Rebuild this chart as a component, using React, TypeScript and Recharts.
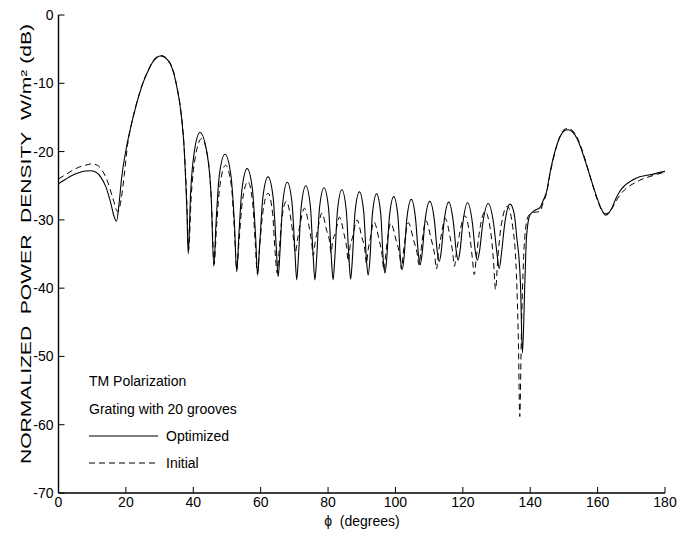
import React from 'react';
import { LineChart, Line, XAxis, YAxis } from 'recharts';

const xTicks = [0, 20, 40, 60, 80, 100, 120, 140, 160, 180];
const yTicks = [0, -10, -20, -30, -40, -50, -60, -70];

const titleLines = ['TM Polarization', 'Grating with 20 grooves'];
const seriesNames = ['Optimized', 'Initial'];
const xLabel = 'ϕ\u00a0\u00a0(degrees)';
const yLabel = 'NORMALIZED\u00a0\u00a0POWER\u00a0\u00a0DENSITY\u00a0\u00a0W/m² (dB)';

// [phi (deg), normalized power density (dB)]
const optimizedCurve: [number, number][] = [
  [0, -24.7], [2, -24.1], [4, -23.5], [6, -23.1], [8, -22.85], [9.5, -22.8], [11, -23.0], [12.5, -23.7],
  [14, -25.1], [15.5, -27.5], [16.5, -29.5], [17.2, -30.2], [18, -27.5], [18.7, -24.0], [20.2, -19.3],
  [21.5, -16.3], [22.7, -13.9], [24, -11.6], [25.2, -9.8], [26.5, -8.3], [27.7, -7.1], [29, -6.3],
  [30.1, -6.0], [31.5, -6.2], [33.1, -7.1], [34.2, -8.5], [35.1, -10.5], [36, -13], [36.6, -15.4],
  [37.2, -18.8], [37.7, -23.7], [38.1, -28.5], [38.5, -35.0],
  [39.2, -26.2], [40.25, -20.2], [42.0, -17.2], [44.05, -20.2], [45.3, -26.5], [46.1, -36.8],
  [46.76, -30.4], [47.75, -23.4], [49.4, -20.4], [51.15, -23.4], [52.2, -30.4], [52.9, -37.6],
  [53.5, -32.5], [54.45, -25.5], [56.0, -22.5], [57.55, -25.5], [58.5, -32.5], [59.1, -38.1],
  [59.7, -33.7], [60.65, -26.7], [62.2, -23.7], [63.7, -26.7], [64.6, -33.7], [65.2, -38.3],
  [65.75, -34.5], [66.55, -27.5], [67.9, -24.5], [69.3, -27.5], [70.15, -34.5], [70.7, -38.8],
  [71.25, -35.0], [72.05, -28.0], [73.4, -25.0], [74.75, -28.0], [75.55, -35.0], [76.1, -38.8],
  [76.65, -35.3], [77.45, -28.3], [78.8, -25.3], [80.15, -28.3], [80.95, -35.3], [81.5, -38.8],
  [82.0, -35.6], [82.8, -28.6], [84.1, -25.6], [85.4, -28.6], [86.2, -35.6], [86.7, -38.7],
  [87.2, -35.9], [88.0, -28.9], [89.3, -25.9], [90.6, -28.9], [91.4, -35.9], [91.9, -38.1],
  [92.4, -36.0], [93.15, -29.2], [94.4, -26.2], [95.65, -29.2], [96.4, -36.0], [96.9, -37.8],
  [97.4, -35.8], [98.2, -29.6], [99.5, -26.6], [100.75, -29.6], [101.5, -35.8], [102.0, -37.3],
  [102.55, -35.5], [103.35, -30.0], [104.7, -27.0], [106.0, -30.0], [106.8, -35.0], [107.3, -36.6],
  [107.9, -35.0], [108.75, -30.3], [110.2, -27.3], [111.6, -30.3], [112.45, -34.8], [113.0, -36.1],
  [113.55, -34.8], [114.4, -30.4], [115.8, -27.4], [117.2, -30.4], [118.05, -34.6], [118.6, -35.9],
  [119.15, -34.6], [120.0, -30.5], [121.4, -27.5], [122.85, -30.5], [123.7, -34.6], [124.3, -35.9],
  [124.95, -34.6], [125.9, -30.6], [127.5, -27.6], [129.15, -30.6], [130.15, -35.0], [130.8, -37.1],
  [131.45, -35.0], [132.4, -30.7], [134.0, -27.7], [135.2, -29.0], [136.0, -32.5], [137.1, -39.3],
  [137.7, -49.5], [138.4, -39.3], [138.9, -32.5], [139.9, -29.3], [141.4, -28.6], [142.9, -28.2],
  [143.9, -27.1], [144.9, -25.8], [145.8, -23.3], [146.8, -21.0], [148.8, -17.9], [150, -17.0],
  [151.3, -16.8], [152.5, -17.1], [153.8, -18.0], [155, -19.4], [156.2, -21.2], [157.5, -23.2],
  [158.7, -25.1], [160, -27.0], [161.2, -28.5], [162.4, -29.3], [163.3, -29.0], [164.2, -28.3],
  [165.4, -26.9], [166.6, -25.8], [168, -25.0], [169.6, -24.4], [172.5, -23.7], [176.5, -23.3], [180, -22.9],
];

const initialCurve: [number, number][] = [
  [0, -24.0], [2, -23.4], [4, -22.8], [6, -22.3], [8, -22.0], [10, -21.8], [11.5, -22.0], [13, -22.8],
  [14.5, -24.3], [16, -26.6], [17.6, -28.8], [18.6, -27.0], [19.5, -23.5], [20.5, -19.0], [21.5, -16.3],
  [22.7, -13.8], [24, -11.5], [25.2, -9.7], [26.5, -8.2], [27.7, -7.0], [29, -6.2], [30.1, -5.9],
  [31.5, -6.1], [33.1, -7.0], [34.2, -8.4], [35.1, -10.4], [36, -12.9], [36.6, -15.3], [37.2, -18.7],
  [37.8, -24], [38.2, -29], [38.6, -34.5],
  [39.4, -26.5], [40.5, -21.1], [42.5, -18.1], [44.4, -21.1], [45.4, -27.5], [46.2, -36.5],
  [46.9, -31.0], [47.9, -25.0], [49.6, -22.0], [51.3, -25.0], [52.2, -31.5], [52.9, -37.3],
  [53.6, -33.0], [54.55, -27.4], [56.2, -24.4], [57.6, -27.4], [58.4, -33.5], [59.0, -37.8],
  [59.6, -34.5], [60.6, -29.1], [62.2, -26.1], [63.55, -29.1], [64.3, -34.8], [64.9, -37.8],
  [65.5, -34.5], [66.25, -30.0], [67.6, -27.3], [69.0, -30.0], [69.8, -33.0], [70.3, -34.8],
  [70.9, -33.0], [71.65, -30.8], [73.0, -28.3], [74.3, -30.8], [75.1, -33.2], [75.6, -35.2],
  [76.2, -33.2], [76.9, -31.5], [78.2, -29.0], [79.55, -31.5], [80.4, -33.0], [80.9, -34.8],
  [81.4, -33.0], [82.15, -32.0], [83.4, -29.6], [84.7, -32.0], [85.5, -34.0], [86.0, -36.1],
  [86.5, -34.0], [87.3, -32.5], [88.6, -30.0], [90.0, -32.5], [90.9, -34.3], [91.4, -36.4],
  [91.9, -34.4], [92.5, -32.8], [93.6, -30.3], [95.1, -32.8], [96.0, -35.0], [96.6, -37.4],
  [97.1, -35.2], [97.6, -33.0], [98.6, -30.5], [100.2, -33.0], [101.2, -35.0], [101.8, -37.2],
  [102.3, -35.0], [102.8, -33.0], [103.8, -30.4], [105.4, -33.0], [106.4, -34.8], [107.0, -36.6],
  [107.5, -34.8], [108.0, -32.8], [109.0, -30.1], [110.6, -32.8], [111.6, -35.0], [112.2, -37.2],
  [112.7, -35.0], [113.5, -32.5], [114.8, -29.8], [116.2, -32.5], [117.0, -34.8], [117.5, -36.8],
  [118.1, -34.8], [119.0, -32.1], [120.6, -29.4], [122.0, -32.1], [122.8, -35.5], [123.4, -38.0],
  [124.0, -35.5], [125.0, -31.5], [126.6, -28.8], [128.2, -31.5], [129.1, -36.0], [129.7, -40.2],
  [130.4, -35.5], [131.4, -30.8], [133.2, -28.0], [134.8, -31.0], [135.9, -38.0], [136.5, -48.0],
  [136.9, -58.8], [137.4, -46.0], [138.0, -36.0], [138.7, -31.0], [139.6, -29.3], [141.0, -28.9],
  [142.8, -28.8], [143.9, -27.4], [144.9, -26.0], [145.8, -23.5], [146.8, -21.2], [148.8, -17.8],
  [150, -16.8], [151.3, -16.6], [152.5, -16.9], [153.8, -17.8], [155, -19.2], [156.2, -21.0],
  [157.5, -23.2], [158.7, -25.2], [160, -27.2], [161.2, -28.6], [162.4, -29.1], [163.3, -28.9],
  [164.2, -28.4], [165.4, -27.3], [166.6, -26.4], [168, -25.6], [169.6, -25.0], [172.5, -24.2],
  [176.5, -23.5], [180, -23.0],
];

const optimizedData = optimizedCurve.map(([phi, db]) => ({ phi, db }));
const initialData = initialCurve.map(([phi, db]) => ({ phi, db }));

const FONT = '"Liberation Sans", Arial, sans-serif';
const tickStyle = { fontSize: 14, fill: '#000', fontFamily: FONT };

const YTick = (props: any) => {
  const { y, payload } = props;
  return (
    <text x={53.5} y={y} textAnchor="end" dominantBaseline="central" fontSize={14} fontFamily={FONT} fill="#000">
      {String(payload.value)}
    </text>
  );
};

export default function App() {
  return (
    <div style={{ position: 'absolute', left: 0, top: 0, width: 681, height: 534, background: '#fff' }}>
      <LineChart width={681} height={534} margin={{ top: 15, right: 16, bottom: 0, left: 0 }}>
        <XAxis
          xAxisId="b"
          dataKey="phi"
          type="number"
          domain={[0, 180]}
          ticks={xTicks}
          allowDataOverflow
          height={41}
          tickSize={-6}
          tickMargin={10}
          tick={tickStyle}
          axisLine={{ stroke: '#000', strokeWidth: 1.4 }}
          tickLine={{ stroke: '#000', strokeWidth: 1 }}
          label={(props: any) => (
            <text x={362} y={526} textAnchor="middle" fontSize={14} fontFamily={FONT} fill="#000">
              {xLabel}
            </text>
          )}
        />
        <XAxis
          xAxisId="t"
          orientation="top"
          type="number"
          domain={[0, 180]}
          ticks={xTicks}
          allowDataOverflow
          height={0}
          tickSize={-6}
          tick={false}
          axisLine={{ stroke: '#000', strokeWidth: 1.4 }}
          tickLine={{ stroke: '#000', strokeWidth: 1 }}
        />
        <YAxis
          yAxisId="l"
          type="number"
          domain={[-70, 0]}
          ticks={yTicks}
          allowDataOverflow
          width={58.5}
          tickSize={-6}
          tickMargin={11}
          tick={<YTick />}
          axisLine={{ stroke: '#000', strokeWidth: 1.4 }}
          tickLine={{ stroke: '#000', strokeWidth: 1 }}
          label={(props: any) => (
            <text
              x={25}
              y={244}
              transform="rotate(-90, 25, 244)"
              textAnchor="middle"
              dominantBaseline="central"
              fontSize={15}
              fontFamily={FONT}
              fill="#000"
              textLength={440}
              lengthAdjust="spacingAndGlyphs"
            >
              {yLabel}
            </text>
          )}
        />
        <YAxis
          yAxisId="r"
          orientation="right"
          type="number"
          domain={[-70, 0]}
          ticks={yTicks}
          allowDataOverflow
          width={0}
          tickSize={-6}
          tick={false}
          axisLine={{ stroke: '#000', strokeWidth: 1.4 }}
          tickLine={{ stroke: '#000', strokeWidth: 1 }}
        />
        <Line
          xAxisId="b"
          yAxisId="l"
          data={initialData}
          dataKey="db"
          type="monotone"
          stroke="#000"
          strokeWidth={1}
          strokeDasharray="6 4"
          dot={false}
          activeDot={false}
          isAnimationActive={false}
          name={seriesNames[1]}
        />
        <Line
          xAxisId="b"
          yAxisId="l"
          data={optimizedData}
          dataKey="db"
          type="monotone"
          stroke="#000"
          strokeWidth={1.1}
          dot={false}
          activeDot={false}
          isAnimationActive={false}
          name={seriesNames[0]}
        />
        <g fontFamily={FONT} fontSize={14} fill="#000">
          <text x={89} y={386}>{titleLines[0]}</text>
          <text x={89} y={414}>{titleLines[1]}</text>
          <line x1={89} x2={158} y1={436} y2={436} stroke="#000" strokeWidth={1.1} />
          <text x={166} y={441}>{seriesNames[0]}</text>
          <line x1={89} x2={158} y1={463} y2={463} stroke="#000" strokeWidth={1} strokeDasharray="6 4" />
          <text x={166} y={468}>{seriesNames[1]}</text>
        </g>
      </LineChart>
    </div>
  );
}
